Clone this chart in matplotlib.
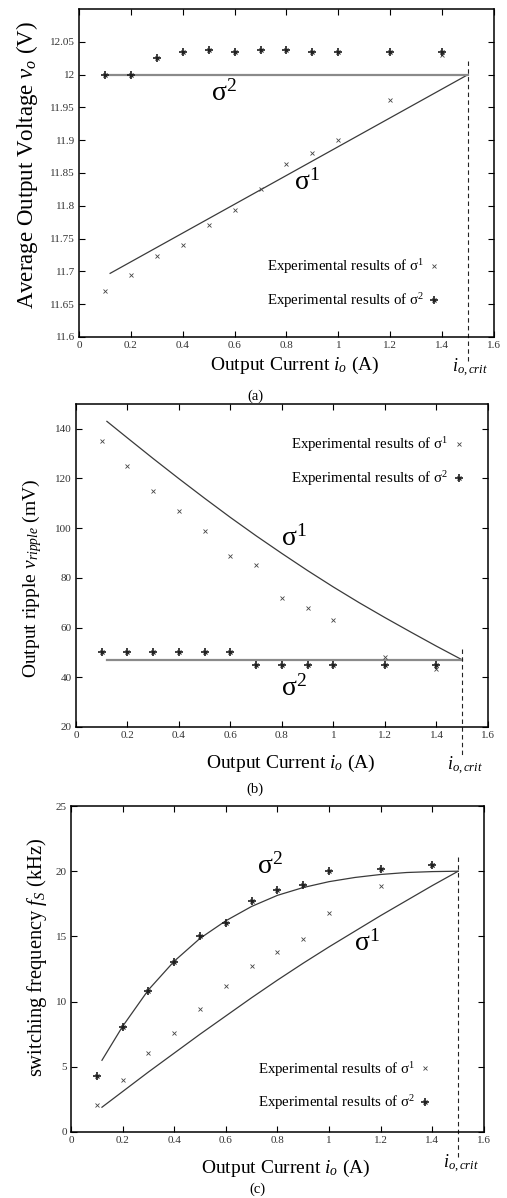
import matplotlib
matplotlib.use("Agg")
import matplotlib.pyplot as plt

plt.rcParams["font.family"] = "Liberation Serif"
plt.rcParams["mathtext.fontset"] = "custom"
plt.rcParams["mathtext.rm"] = "Liberation Serif"
plt.rcParams["mathtext.it"] = "Liberation Serif:italic"
plt.rcParams["xtick.direction"] = "in"
plt.rcParams["ytick.direction"] = "in"
plt.rcParams["xtick.top"] = True
plt.rcParams["ytick.right"] = True

# measured points (same currents for all three panels)
io_exp = [0.1, 0.2, 0.3, 0.4, 0.5, 0.6, 0.7, 0.8, 0.9, 1.0, 1.2, 1.4]
i_crit = 1.5

# (a) average output voltage (V)
vo_s1_exp = [11.670, 11.695, 11.723, 11.740, 11.771, 11.794, 11.826, 11.863, 11.881, 11.901, 11.961, 12.030]
vo_s2_exp = [12.000, 12.000, 12.026, 12.035, 12.037, 12.035, 12.037, 12.037, 12.035, 12.035, 12.035, 12.035]
vo_s1_io = [0.12, 1.5]
vo_s1 = [11.697, 12.000]
vo_s2_io = [0.1, 1.5]
vo_s2 = [12.0, 12.0]

# (b) output ripple (mV)
rip_s1_exp = [135, 125, 115, 107, 99, 89, 85, 72, 68, 63, 48, 43.5]
rip_s2_exp = [50, 50, 50, 50, 50, 50, 45, 45, 45, 45, 45, 45]
rip_s1_io = [0.12, 0.2, 0.3, 0.4, 0.5, 0.6, 0.7, 0.8, 0.9, 1.0, 1.1, 1.2, 1.3, 1.4, 1.5]
rip_s1 = [143, 136.3, 128, 119.9, 112.0, 104.3, 96.9, 89.8, 82.9, 76.3, 70.0, 64.0, 58.2, 52.5, 47]
rip_s2_io = [0.12, 1.5]
rip_s2 = [47, 47]

# (c) switching frequency (kHz)
fs_s1_exp = [2.05, 4.0, 6.06, 7.6, 9.4, 11.2, 12.7, 13.8, 14.8, 16.8, 18.83, 20.45]
fs_s2_exp = [4.27, 8.06, 10.82, 13.0, 15.05, 16.0, 17.7, 18.55, 18.96, 20.0, 20.2, 20.45]
fs_io = [0.12, 0.2, 0.3, 0.4, 0.5, 0.6, 0.7, 0.8, 0.9, 1.0, 1.1, 1.2, 1.3, 1.4, 1.5]
fs_s1 = [1.9, 3.1, 4.6, 6.05, 7.5, 8.9, 10.3, 11.65, 12.95, 14.2, 15.4, 16.6, 17.75, 18.9, 20.0]
fs_s2 = [5.5, 8.1, 10.9, 13.1, 14.85, 16.2, 17.3, 18.15, 18.75, 19.2, 19.52, 19.75, 19.9, 19.97, 20.0]

xticks = [0, 0.2, 0.4, 0.6, 0.8, 1, 1.2, 1.4, 1.6]
xtick_labels = ["0", "0.2", "0.4", "0.6", "0.8", "1", "1.2", "1.4", "1.6"]

LINE = "#3a3a3a"
FLAT = "#8a8a8a"
MARK = "#1e1e1e"


def draw_panel(ax, exp1, exp2, io1, th1, io2, th2, flat2, ylim, yticks, ylabels,
               ylabel, ylabel_size, ylabel_xy, xlabel_y, crit_top, crit_bottom, crit_y,
               s1_pos, s2_pos, leg_anchor):
    ax.plot(io1, th1, color=LINE, lw=0.9)
    ax.plot(io2, th2, color=FLAT if flat2 else LINE, lw=1.6 if flat2 else 0.9)

    m1, = ax.plot(io_exp, exp1, ls="none", marker="x", ms=3.2, mew=0.6, color="#444444")
    p2, = ax.plot(io_exp, exp2, ls="none", marker="+", ms=5.8, mew=1.2, color=MARK)
    x2, = ax.plot(io_exp, exp2, ls="none", marker="x", ms=3.5, mew=0.8, color=MARK)

    # dashed line at the critical current, running past the bottom axis
    y_top = (crit_top - ylim[0]) / (ylim[1] - ylim[0])
    ax.plot([i_crit, i_crit], [y_top, crit_bottom], transform=ax.get_xaxis_transform(),
            color="#222222", lw=0.8, ls=(0, (4, 3)), clip_on=False)
    ax.text(i_crit - 0.06, crit_y, r"$i_{o,crit}$", transform=ax.get_xaxis_transform(),
            ha="left", va="baseline", fontsize=13)

    ax.text(s1_pos[0], s1_pos[1], "σ$^{1}$", fontsize=20, ha="center", va="center")
    ax.text(s2_pos[0], s2_pos[1], "σ$^{2}$", fontsize=20, ha="center", va="center")

    ax.legend([m1, (p2, x2)],
              ["Experimental results of σ$^{1}$", "Experimental results of σ$^{2}$"],
              loc="center right", bbox_to_anchor=leg_anchor, frameon=False,
              markerfirst=False, handlelength=0.8, handletextpad=0.3,
              labelspacing=1.0, fontsize=10.7, borderaxespad=0)

    ax.set_xlim(0, 1.6)
    ax.set_ylim(*ylim)
    ax.set_xticks(xticks)
    ax.set_xticklabels(xtick_labels)
    ax.set_yticks(yticks)
    ax.set_yticklabels(ylabels)
    ax.tick_params(labelsize=8, labelcolor="#333333", length=4, width=0.8, pad=3)
    for s in ax.spines.values():
        s.set_linewidth(1.1)

    ax.set_xlabel(r"Output Current $i_o$ (A)", fontsize=14)
    ax.xaxis.set_label_coords(0.52, xlabel_y, transform=ax.transAxes)
    ax.xaxis.label.set_va("baseline")
    ax.set_ylabel(ylabel, fontsize=ylabel_size)
    ax.yaxis.set_label_coords(ylabel_xy[0], ylabel_xy[1], transform=ax.transAxes)
    ax.yaxis.label.set_va("center")


fig = plt.figure(figsize=(5.07, 11.98), dpi=100)

ax_a = fig.add_axes([0.1558, 0.7187, 0.8185, 0.2738])
draw_panel(ax_a, vo_s1_exp, vo_s2_exp, vo_s1_io, vo_s1, vo_s2_io, vo_s2, True,
           (11.6, 12.1), [11.6 + 0.05 * k for k in range(10)],
           ["11.6", "11.65", "11.7", "11.75", "11.8", "11.85", "11.9", "11.95", "12", "12.05"],
           r"Average Output Voltage $v_o$ (V)", 16.5, (-0.125, 0.524), -0.100,
           12.02, -0.076, -0.107,
           (0.88, 11.835), (0.56, 11.972), (0.885, 0.162))

ax_b = fig.add_axes([0.1499, 0.3932, 0.8126, 0.2696])
draw_panel(ax_b, rip_s1_exp, rip_s2_exp, rip_s1_io, rip_s1, rip_s2_io, rip_s2, True,
           (20, 150), [20, 40, 60, 80, 100, 120, 140],
           ["20", "40", "60", "80", "100", "120", "140"],
           r"Output ripple $v_{ripple}$ (mV)", 14.0, (-0.107, 0.461), -0.127,
           51.5, -0.093, -0.133,
           (0.845, 95.8), (0.845, 35.5), (0.958, 0.822))

ax_c = fig.add_axes([0.1400, 0.0551, 0.8146, 0.2721])
draw_panel(ax_c, fs_s1_exp, fs_s2_exp, fs_io, fs_s1, fs_io, fs_s2, False,
           (0, 25), [0, 5, 10, 15, 20, 25],
           ["0", "5", "10", "15", "20", "25"],
           r"switching frequency $f_S$ (kHz)", 14.8, (-0.082, 0.535), -0.125,
           21.1, -0.086, -0.11,
           (1.145, 14.5), (0.77, 20.4), (0.887, 0.141))

fig.text(0.503, 1 - 396 / 1198, "(a)", ha="center", va="center", fontsize=10.5)
fig.text(0.503, 1 - 789 / 1198, "(b)", ha="center", va="center", fontsize=10.5)
fig.text(0.508, 1 - 1189 / 1198, "(c)", ha="center", va="center", fontsize=10.5)

fig.savefig("out.png", dpi=100)
